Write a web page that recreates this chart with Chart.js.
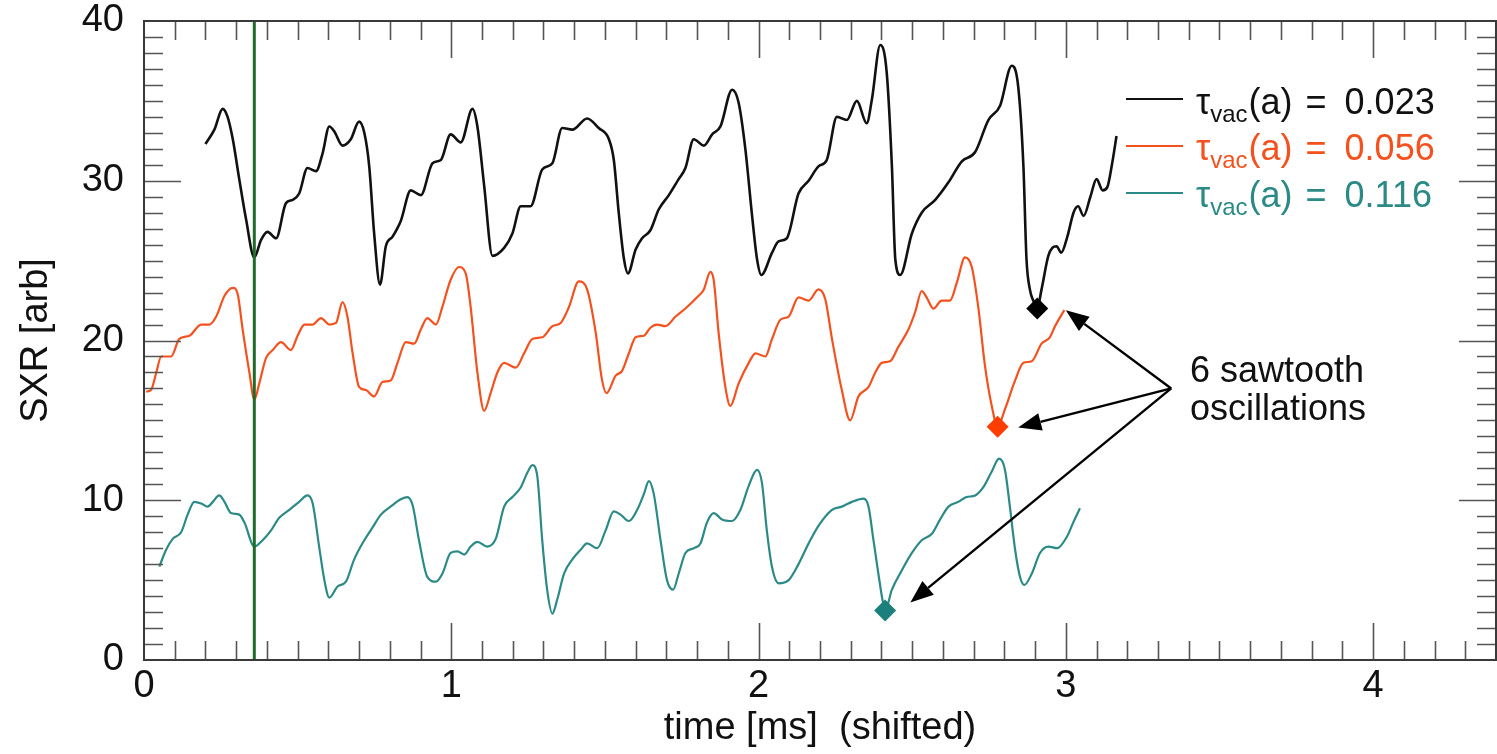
<!DOCTYPE html>
<html><head><meta charset="utf-8">
<script src="https://cdn.jsdelivr.net/npm/chart.js@4/dist/chart.umd.min.js"></script>
<style>html,body{margin:0;padding:0;background:#fff}#wrap{width:1497px;height:754px}</style>
</head><body><div id="wrap"><canvas id="c" width="1497" height="754"></canvas></div>
<script>
const FONT = '"Liberation Sans", Arial, Helvetica, sans-serif';
const xTickValues = [0, 1, 2, 3, 4];
const yTickValues = [0, 10, 20, 30, 40];
const xTitle = 'time [ms]  (shifted)';
const yTitle = 'SXR [arb]';
const legendValues = ['0.023', '0.056', '0.116'];
const seriesColors = ['#111111', '#f4511e', '#2b8a86'];
const markerColors = ['#000000', '#ff3d00', '#1b7f7c'];
const annotationLines = ['6 sawtooth', 'oscillations'];

// [time, SXR] samples
const blackSeries = [[0.200,32.3],[0.229,33.2],[0.256,34.5],[0.272,34.0],[0.289,32.6],[0.310,30.1],[0.332,27.6],[0.359,25.2],[0.381,26.3],[0.402,26.8],[0.430,26.4],[0.462,28.6],[0.484,28.8],[0.505,29.2],[0.532,30.8],[0.560,30.6],[0.581,31.7],[0.603,33.4],[0.619,33.1],[0.646,32.2],[0.673,32.6],[0.700,33.7],[0.717,33.0],[0.733,30.9],[0.749,26.7],[0.768,23.5],[0.787,25.9],[0.809,26.5],[0.836,27.5],[0.868,29.4],[0.901,29.1],[0.939,31.1],[0.966,31.3],[0.998,32.9],[1.031,32.4],[1.069,34.5],[1.085,33.4],[1.107,29.7],[1.134,25.3],[1.172,25.8],[1.199,26.7],[1.226,28.4],[1.258,28.4],[1.296,30.7],[1.329,31.1],[1.361,33.3],[1.394,33.2],[1.442,33.9],[1.480,33.3],[1.513,32.6],[1.529,31.3],[1.545,28.0],[1.562,25.1],[1.575,24.2],[1.600,25.7],[1.621,26.4],[1.648,26.9],[1.675,28.2],[1.708,29.1],[1.740,30.1],[1.762,30.8],[1.789,32.6],[1.822,32.2],[1.849,32.9],[1.876,33.4],[1.914,35.7],[1.935,34.9],[1.957,32.0],[1.979,27.8],[1.995,25.1],[2.009,24.1],[2.044,25.5],[2.065,26.2],[2.092,26.4],[2.130,29.2],[2.163,30.0],[2.195,30.9],[2.222,31.3],[2.255,34.0],[2.287,33.8],[2.320,35.0],[2.352,33.6],[2.369,35.1],[2.396,38.5],[2.417,36.8],[2.434,30.9],[2.445,25.1],[2.461,24.1],[2.499,26.7],[2.531,28.0],[2.575,28.8],[2.618,29.9],[2.661,31.2],[2.705,31.8],[2.748,33.8],[2.786,34.7],[2.824,37.2],[2.845,35.9],[2.862,30.9],[2.872,25.1],[2.883,23.2],[2.894,22.5],[2.907,22.0],[2.921,23.2],[2.943,25.3],[2.956,25.8],[2.970,25.9],[2.985,25.5],[3.005,26.5],[3.025,28.0],[3.040,28.4],[3.058,27.8],[3.080,29.0],[3.100,30.1],[3.120,29.4],[3.135,29.6],[3.150,31.0],[3.165,32.8]];

const orangeSeries = [[0.007,16.8],[0.023,16.9],[0.040,18.0],[0.056,19.0],[0.088,19.0],[0.115,20.1],[0.148,20.3],[0.186,21.0],[0.213,21.0],[0.235,21.5],[0.262,22.8],[0.289,23.3],[0.305,22.9],[0.321,20.7],[0.343,18.0],[0.359,16.3],[0.375,17.3],[0.397,18.9],[0.419,19.4],[0.446,19.9],[0.478,19.4],[0.500,20.3],[0.522,21.0],[0.549,21.0],[0.576,21.4],[0.603,21.0],[0.625,21.1],[0.646,22.4],[0.662,21.5],[0.679,19.2],[0.700,17.1],[0.722,16.9],[0.749,16.5],[0.776,17.4],[0.803,17.5],[0.825,18.6],[0.852,19.9],[0.879,19.8],[0.901,20.7],[0.922,21.4],[0.950,21.0],[0.971,22.1],[0.998,23.8],[1.025,24.6],[1.047,24.2],[1.063,22.1],[1.085,18.0],[1.107,15.6],[1.128,16.7],[1.150,18.0],[1.172,18.6],[1.210,18.3],[1.237,19.2],[1.264,20.1],[1.296,20.2],[1.329,20.9],[1.356,21.1],[1.383,22.1],[1.415,23.7],[1.442,23.2],[1.470,20.5],[1.490,17.6],[1.505,16.7],[1.535,17.8],[1.556,18.1],[1.578,19.2],[1.600,20.2],[1.627,20.3],[1.648,20.8],[1.670,21.0],[1.697,20.9],[1.730,21.5],[1.762,22.0],[1.800,22.7],[1.822,23.2],[1.843,24.3],[1.854,23.8],[1.870,20.5],[1.892,17.1],[1.908,15.9],[1.935,17.3],[1.968,18.6],[1.990,19.2],[2.022,19.0],[2.044,20.1],[2.071,21.3],[2.098,21.5],[2.130,22.7],[2.163,22.5],[2.195,23.2],[2.217,22.6],[2.239,20.1],[2.271,16.9],[2.298,15.0],[2.325,16.5],[2.358,17.1],[2.380,18.0],[2.401,18.6],[2.428,18.7],[2.455,19.6],[2.488,20.7],[2.510,21.8],[2.531,23.1],[2.547,22.7],[2.569,22.0],[2.596,22.5],[2.623,22.5],[2.645,23.6],[2.672,25.2],[2.694,24.6],[2.715,22.1],[2.737,18.4],[2.759,15.9],[2.778,14.6],[2.802,15.7],[2.835,17.5],[2.862,18.6],[2.889,18.7],[2.921,19.8],[2.948,20.2],[2.965,20.9],[2.995,21.9]];

const tealSeries = [[0.050,5.85],[0.072,6.9],[0.094,7.6],[0.121,8.0],[0.142,9.1],[0.164,9.9],[0.186,9.8],[0.207,9.6],[0.224,9.9],[0.245,10.3],[0.262,9.9],[0.283,9.2],[0.310,9.1],[0.327,8.6],[0.359,7.1],[0.386,7.5],[0.413,8.1],[0.440,8.9],[0.473,9.4],[0.505,9.9],[0.532,10.3],[0.549,9.8],[0.570,7.1],[0.587,5.0],[0.603,3.9],[0.630,4.6],[0.657,4.9],[0.684,6.3],[0.717,7.5],[0.744,8.3],[0.771,9.1],[0.809,9.7],[0.830,10.0],[0.857,10.2],[0.874,9.7],[0.895,7.5],[0.922,5.2],[0.950,4.9],[0.971,5.4],[0.998,6.7],[1.020,6.8],[1.042,6.6],[1.063,7.1],[1.085,7.4],[1.117,7.1],[1.145,7.6],[1.172,9.6],[1.199,10.2],[1.226,10.8],[1.247,11.7],[1.264,12.2],[1.280,11.5],[1.296,7.5],[1.312,4.4],[1.329,2.9],[1.345,3.8],[1.367,5.4],[1.394,6.3],[1.421,6.9],[1.442,7.3],[1.475,7.0],[1.502,8.1],[1.529,9.3],[1.551,9.1],[1.578,8.7],[1.605,9.4],[1.627,10.4],[1.643,11.2],[1.659,10.4],[1.681,7.5],[1.702,5.0],[1.722,4.4],[1.740,5.4],[1.762,6.7],[1.789,7.0],[1.811,7.3],[1.832,8.6],[1.854,9.2],[1.881,8.8],[1.914,8.7],[1.941,9.4],[1.968,10.9],[1.995,11.9],[2.011,11.1],[2.027,8.1],[2.044,5.8],[2.065,4.8],[2.098,5.0],[2.130,6.0],[2.163,7.3],[2.195,8.4],[2.239,9.4],[2.271,9.6],[2.304,9.9],[2.342,10.1],[2.358,9.6],[2.374,7.5],[2.390,5.4],[2.404,3.7],[2.412,3.1],[2.434,4.4],[2.466,5.6],[2.499,6.7],[2.531,7.5],[2.564,7.9],[2.591,8.8],[2.618,9.6],[2.650,9.9],[2.677,10.2],[2.705,10.3],[2.731,10.8],[2.759,11.8],[2.783,12.6],[2.802,11.9],[2.818,9.6],[2.835,6.9],[2.851,5.2],[2.865,4.7],[2.889,5.4],[2.916,6.7],[2.943,7.1],[2.972,7.0],[3.003,7.7],[3.024,8.6],[3.046,9.5]];

const crashTimes = [2.907, 2.778, 2.412];
const crashValues = [22.0, 14.6, 3.1];
const markerTime = 0.359;
const arrowOrigin = [3.343, 17.0];
const arrowTargetsX = [3.000, 2.845, 2.494];
const arrowTargetsY = [21.9, 14.55, 3.6];

const toPts = s => s.map(p => ({x: p[0], y: p[1]}));

const frameTicks = {
  id: 'frameTicks',
  afterDraw(chart) {
    const {ctx, chartArea: a, scales: {x, y}} = chart;
    ctx.save();
    ctx.strokeStyle = '#555';
    ctx.lineWidth = 1.6;
    ctx.beginPath();
    for (let i = 1; i <= 43; i++) {
      const v = i / 10;
      const px = Math.round(x.getPixelForValue(v)) + 0.5;
      const L = (i % 10 === 0) ? 37 : 19;
      ctx.moveTo(px, a.bottom); ctx.lineTo(px, a.bottom - L);
      ctx.moveTo(px, a.top); ctx.lineTo(px, a.top + L);
    }
    for (let i = 1; i < 40; i++) {
      const py = Math.round(y.getPixelForValue(i)) + 0.5;
      const L = (i % 10 === 0) ? 37 : 19;
      ctx.moveTo(a.left, py); ctx.lineTo(a.left + L, py);
      ctx.moveTo(a.right, py); ctx.lineTo(a.right - L, py);
    }
    ctx.stroke();
    ctx.strokeStyle = '#3a3a3a';
    ctx.lineWidth = 2;
    ctx.strokeRect(a.left, a.top, a.right - a.left, a.bottom - a.top);

    // arrows
    const ox = x.getPixelForValue(arrowOrigin[0]), oy = y.getPixelForValue(arrowOrigin[1]);
    ctx.strokeStyle = '#000'; ctx.fillStyle = '#000'; ctx.lineWidth = 2.4;
    for (let k = 0; k < arrowTargetsX.length; k++) {
      const tx = x.getPixelForValue(arrowTargetsX[k]), ty = y.getPixelForValue(arrowTargetsY[k]);
      const ang = Math.atan2(ty - oy, tx - ox);
      const hl = 23, hw = 9;
      const bx = tx - hl * Math.cos(ang), by = ty - hl * Math.sin(ang);
      ctx.beginPath(); ctx.moveTo(ox, oy); ctx.lineTo(bx, by); ctx.stroke();
      ctx.beginPath();
      ctx.moveTo(tx, ty);
      ctx.lineTo(bx + hw * Math.sin(ang), by - hw * Math.cos(ang));
      ctx.lineTo(bx - hw * Math.sin(ang), by + hw * Math.cos(ang));
      ctx.closePath(); ctx.fill();
    }
    // annotation text
    ctx.fillStyle = '#111';
    ctx.font = '36px ' + FONT;
    ctx.textBaseline = 'alphabetic'; ctx.textAlign = 'left';
    ctx.fillText(annotationLines[0], 1190, 382);
    ctx.fillText(annotationLines[1], 1190, 420);

    // legend
    const lineYs = [99, 146, 193];
    const baseYs = [114, 160, 207];
    for (let k = 0; k < legendValues.length; k++) {
      ctx.strokeStyle = seriesColors[k]; ctx.lineWidth = 2.2;
      ctx.beginPath(); ctx.moveTo(1126, lineYs[k]); ctx.lineTo(1183, lineYs[k]); ctx.stroke();
      ctx.fillStyle = seriesColors[k];
      let cx = 1196;
      ctx.font = '36px ' + FONT;
      ctx.fillText('τ', cx, baseYs[k]);
      cx += ctx.measureText('τ').width;
      ctx.font = '24px ' + FONT;
      ctx.fillText('vac', cx, baseYs[k] + 8);
      cx += ctx.measureText('vac').width + 1;
      ctx.font = '36px ' + FONT;
      ctx.fillText('(a)', cx, baseYs[k]);
      cx += ctx.measureText('(a)').width + 13;
      ctx.fillText('=', cx, baseYs[k]);
      cx += ctx.measureText('=').width + 18;
      ctx.fillText(legendValues[k], cx, baseYs[k]);
    }
    ctx.restore();
  }
};

new Chart(document.getElementById('c'), {
  type: 'line',
  data: {
    datasets: [
      {label: 'crash', data: crashTimes.map((t, i) => ({x: t, y: crashValues[i]})), showLine: false,
       pointStyle: 'rectRot', pointRadius: 11, pointHoverRadius: 11, pointBackgroundColor: markerColors, pointBorderColor: markerColors, borderWidth: 0},
      {label: 'marker', data: [{x: markerTime, y: 0}, {x: markerTime, y: 40}], borderColor: '#1f6b2a', borderWidth: 3, pointRadius: 0},
      {label: legendValues[0], data: toPts(blackSeries), borderColor: seriesColors[0], borderWidth: 2.6, pointRadius: 0, cubicInterpolationMode: 'monotone'},
      {label: legendValues[1], data: toPts(orangeSeries), borderColor: seriesColors[1], borderWidth: 2.2, pointRadius: 0, cubicInterpolationMode: 'monotone'},
      {label: legendValues[2], data: toPts(tealSeries), borderColor: seriesColors[2], borderWidth: 2.2, pointRadius: 0, cubicInterpolationMode: 'monotone'}
    ]
  },
  options: {
    responsive: false, animation: false, devicePixelRatio: 1,
    layout: {autoPadding: false, padding: {top: 21, right: 1, left: 0, bottom: 0}},
    plugins: {legend: {display: false}, tooltip: {enabled: false}},
    scales: {
      x: {type: 'linear', min: 0, max: 4.4,
          grid: {display: false, drawTicks: false}, border: {display: false},
          afterBuildTicks: s => { s.ticks = xTickValues.map(v => ({value: v})); },
          afterFit: s => { s.height = 94; s.paddingLeft = 0; s.paddingRight = 0; },
          ticks: {color: '#111', padding: 8, font: {family: FONT, size: 38, lineHeight: 1}},
          title: {display: true, text: xTitle, color: '#111', font: {family: FONT, size: 38}, padding: {top: 0, bottom: 3}}},
      y: {type: 'linear', min: 0, max: 40,
          grid: {display: false, drawTicks: false}, border: {display: false},
          afterBuildTicks: s => { s.ticks = yTickValues.map(v => ({value: v})); },
          afterFit: s => { s.width = 144; s.paddingTop = 0; s.paddingBottom = 0; },
          ticks: {color: '#111', padding: 20, font: {family: FONT, size: 38, lineHeight: 1}},
          title: {display: true, text: yTitle, color: '#111', font: {family: FONT, size: 38}, padding: {top: 14, bottom: 0}}}
    }
  },
  plugins: [frameTicks]
});
</script></body></html>
